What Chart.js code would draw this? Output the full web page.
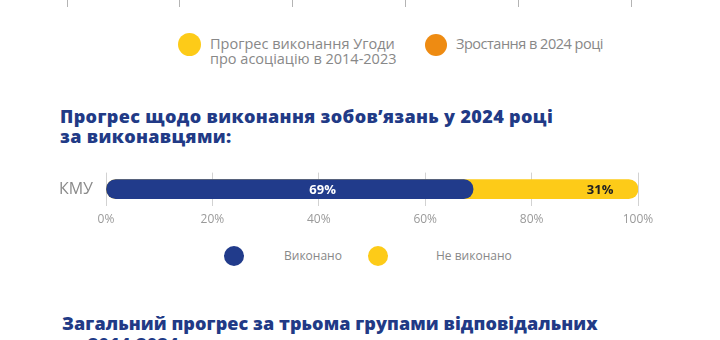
<!DOCTYPE html>
<html lang="uk">
<head>
<meta charset="utf-8">
<script src="https://cdn.jsdelivr.net/npm/chart.js@4"></script>
<style>
  html, body { margin: 0; padding: 0; background: #fff; }
  body { width: 720px; height: 340px; position: relative; overflow: hidden; font-family: 'Open Sans', sans-serif; }
  .abs { position: absolute; }
  .dot { position: absolute; border-radius: 50%; }
  .legtext { position: absolute; color: #888888; font-size: 13px; line-height: 15px; white-space: nowrap; }
  .top .legtext { font-size: 14.5px; }
  .top .legtext.tight { letter-spacing: -0.5px; }
  .bot .legtext { font-size: 12px; }
  .title { position: absolute; color: #213a86; font-family: 'Open Sans', sans-serif; font-weight: 800; font-size: 18px; line-height: 20px; white-space: nowrap; }
</style>
</head>
<body>
<canvas id="topAxis" class="abs" style="left:0;top:0" width="720" height="7"></canvas>

<div id="topLegend" class="top"></div>

<div class="title" style="left:60px;top:106px;letter-spacing:0.35px">Прогрес щодо виконання зобов’язань у 2024 році<br>за виконавцями:</div>

<canvas id="chart" class="abs" style="left:0;top:150px" width="720" height="84"></canvas>

<div id="bottomLegend" class="bot"></div>

<div class="title" style="left:62px;top:313px;line-height:21px;letter-spacing:0.08px">Загальний прогрес за трьома групами відповідальних<br>за 2014-2024 роки:</div>

<script>
const NAVY = '#213b8b';
const YELLOW = '#fdcb18';
const ORANGE = '#ee8b12';

// data
const rowLabels = ['КМУ'];
const doneValues = [69];
const notDoneValues = [31];
const seriesNames = ['Виконано', 'Не виконано'];
const prevLegendNames = ['Прогрес виконання Угоди<br>про асоціацію в 2014-2023', 'Зростання в 2024 році'];
const tickStep = 20;

const totals = doneValues.map((v, i) => v + notDoneValues[i]);

// legends (html)
function legendItem(color, dotX, dotY, size, text, textX, textY, cls = '') {
  return `<div class="dot" style="left:${dotX - size / 2}px;top:${dotY - size / 2}px;width:${size}px;height:${size}px;background:${color}"></div>` +
    `<div class="legtext ${cls}" style="left:${textX}px;top:${textY}px">${text}</div>`;
}
document.getElementById('topLegend').innerHTML =
  legendItem(YELLOW, 189, 44, 23, prevLegendNames[0], 210, 36) +
  legendItem(ORANGE, 436, 45, 22, prevLegendNames[1], 456, 36, 'tight');
document.getElementById('bottomLegend').innerHTML =
  legendItem(NAVY, 234, 256, 20, seriesNames[0], 284, 248) +
  legendItem(YELLOW, 378, 256, 20, seriesNames[1], 436, 248);

// tick marks left over from the chart above
new Chart(document.getElementById('topAxis'), {
  type: 'scatter',
  data: { datasets: [] },
  options: {
    responsive: false,
    animation: false,
    devicePixelRatio: 1,
    layout: { padding: { left: 67, right: 89, top: 0, bottom: 0 } },
    plugins: { legend: { display: false }, tooltip: { enabled: false } },
    scales: {
      x: {
        type: 'linear', min: 0, max: 100,
        ticks: { display: false, stepSize: tickStep },
        grid: { color: '#b4b4b4', drawTicks: false },
        border: { display: false },
      },
      y: { display: false },
    },
  },
});

const barLabels = {
  id: 'barLabels',
  afterDatasetsDraw(chart) {
    const { ctx, scales: { x, y } } = chart;
    ctx.save();
    ctx.font = 'bold 13px "Open Sans", sans-serif';
    ctx.textAlign = 'center';
    ctx.textBaseline = 'middle';
    rowLabels.forEach((_, i) => {
      const cy = y.getPixelForValue(i) + 1;
      ctx.fillStyle = '#ffffff';
      ctx.fillText(doneValues[i] + '%', x.getPixelForValue(doneValues[i] * 0.59), cy);
      ctx.fillStyle = '#222222';
      ctx.fillText(notDoneValues[i] + '%', x.getPixelForValue(doneValues[i] + notDoneValues[i] * 0.77), cy);
    });
    ctx.restore();
  },
};

new Chart(document.getElementById('chart'), {
  type: 'bar',
  data: {
    labels: rowLabels,
    datasets: [
      { label: seriesNames[0], data: doneValues, backgroundColor: NAVY, borderRadius: 10, borderSkipped: false, barThickness: 19, grouped: false },
      { label: seriesNames[1], data: totals, backgroundColor: YELLOW, borderRadius: 10, borderSkipped: false, barThickness: 19, grouped: false },
    ],
  },
  options: {
    indexAxis: 'y',
    responsive: false,
    animation: false,
    devicePixelRatio: 1,
    layout: { padding: { left: 0, right: 82, top: 10, bottom: 0 } },
    plugins: { legend: { display: false }, tooltip: { enabled: false } },
    scales: {
      x: {
        min: 0, max: 100,
        ticks: { stepSize: tickStep, color: '#9a9a9a', font: { family: 'Open Sans', size: 12 }, padding: 7, callback: v => v + '%' },
        grid: { color: '#d2d2d2', drawTicks: false },
        border: { display: false },
      },
      y: {
        afterFit: s => { s.width = 106; },
        ticks: { color: '#8a8a8a', font: { family: 'Open Sans', size: 16 }, padding: 13 },
        grid: { display: false, drawTicks: false },
        border: { display: false },
      },
    },
  },
  plugins: [barLabels],
});
</script>
</body>
</html>
